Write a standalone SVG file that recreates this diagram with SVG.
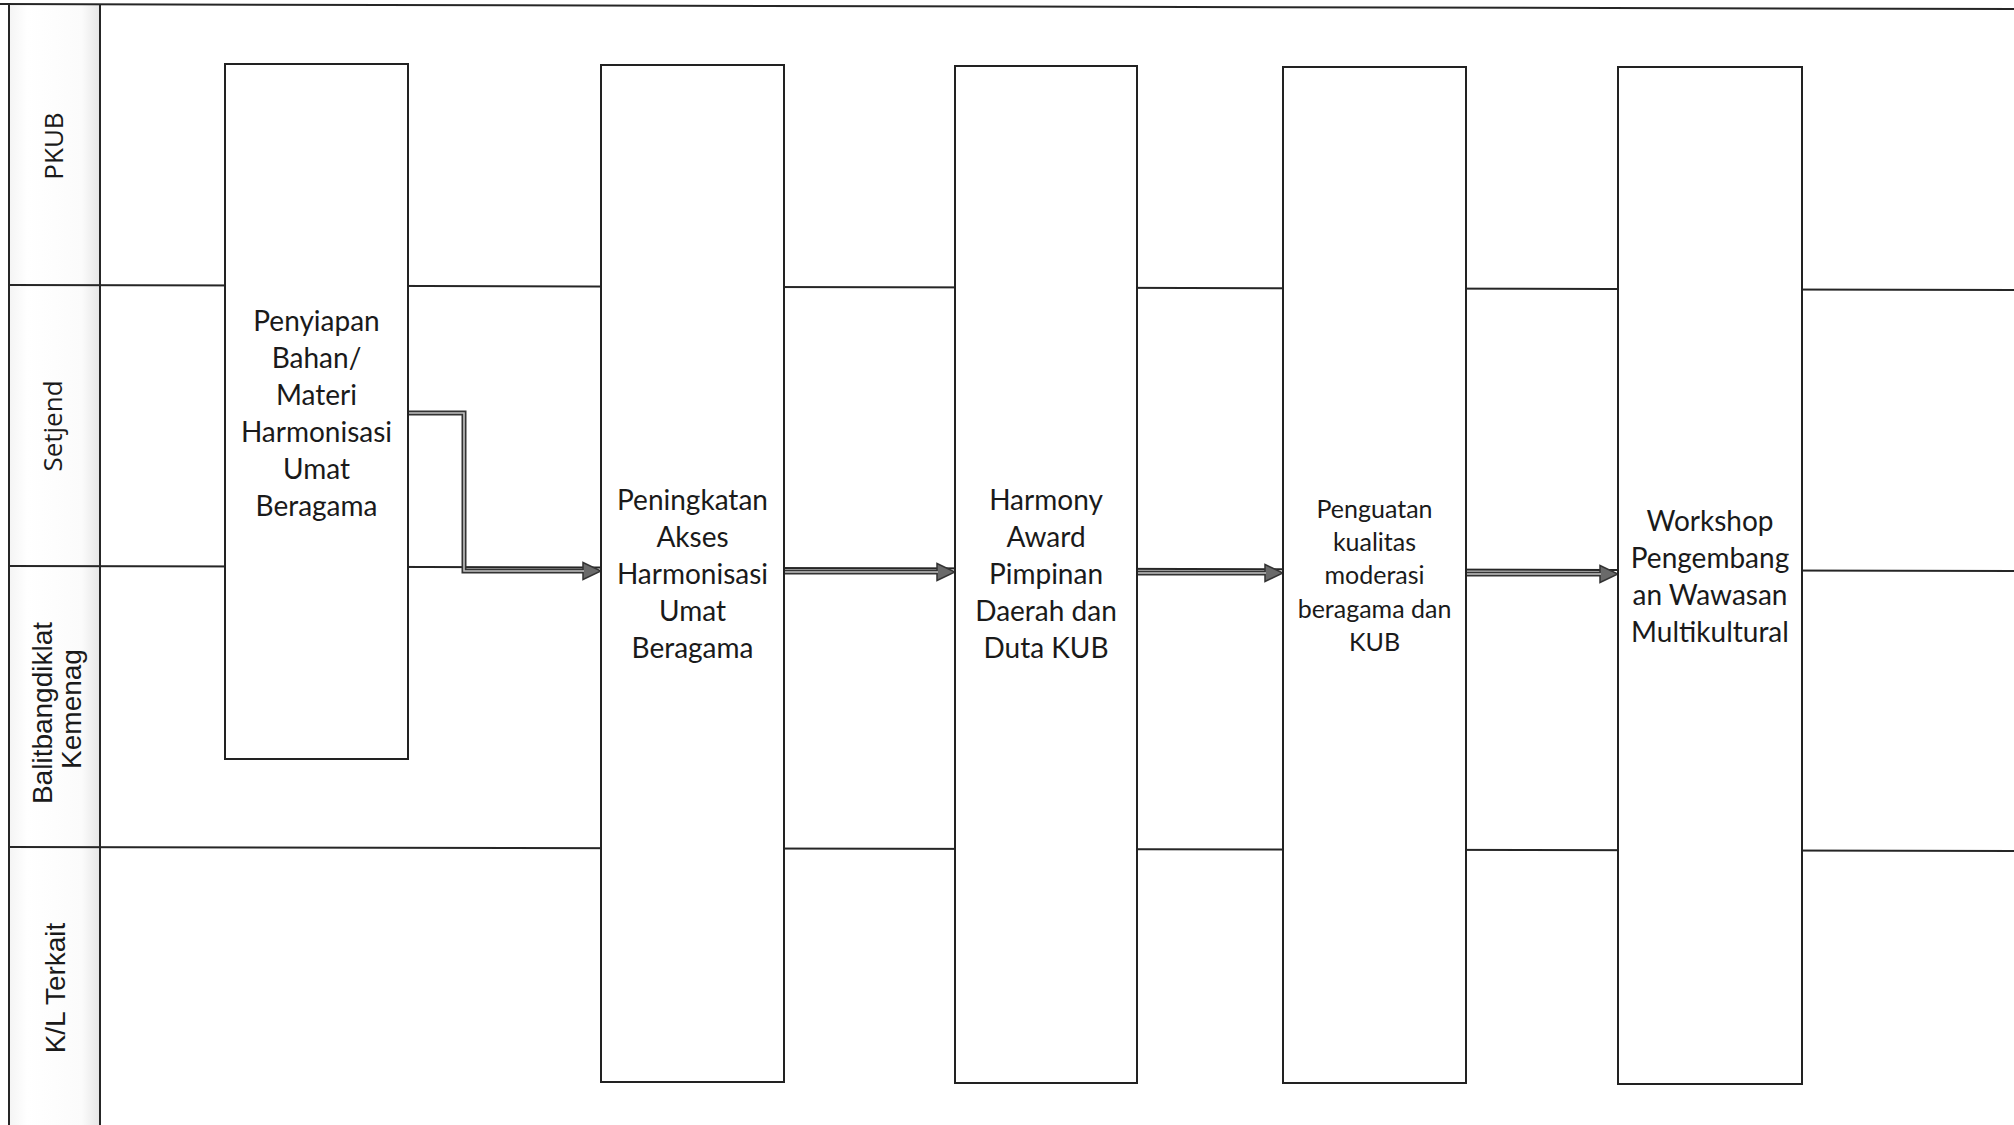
<svg xmlns="http://www.w3.org/2000/svg" width="2014" height="1125" viewBox="0 0 2014 1125">
  <style>
    .frame { stroke: #262626; stroke-width: 2; fill: none; }
    .box { fill: #ffffff; stroke: #222222; stroke-width: 2; }
    .lbl { font-family: Lato, "Open Sans", sans-serif; font-size: 28px; fill: #1a1a1a; text-anchor: middle; }
    .lbl-s { font-size: 25px; }
    .lane { font-family: "Open Sans", Lato, sans-serif; font-size: 26px; fill: #1a1a1a; text-anchor: middle; }
    .lane-a { font-family: "Liberation Sans", Arial, sans-serif; font-size: 28px; fill: #1a1a1a; text-anchor: middle; }
    .conn-outer { stroke: #333333; stroke-width: 5; fill: none; }
    .conn-inner { stroke: #c4c4c4; stroke-width: 1.6; fill: none; }
  </style>
  <defs>
    <linearGradient id="hdrShade" x1="0" y1="0" x2="1" y2="0">
      <stop offset="0" stop-color="#f4f4f4"/>
      <stop offset="0.2" stop-color="#ffffff"/>
      <stop offset="0.8" stop-color="#fbfbfb"/>
      <stop offset="1" stop-color="#e6e6e6"/>
    </linearGradient>
    <marker id="arrow" markerUnits="userSpaceOnUse" markerWidth="20" markerHeight="20" viewBox="0 0 20 20" refX="2" refY="10" orient="auto">
      <path d="M1,1.5 L19,10 L1,18.5 z" fill="#6a6a6a" stroke="#333333" stroke-width="1.5"/>
    </marker>
  </defs>

  <rect x="0" y="0" width="2014" height="1125" fill="#ffffff"/>

  <g id="lanes">
    <rect x="9" y="4" width="91" height="1121" fill="url(#hdrShade)"/>
    <line class="frame" x1="0" y1="4" x2="2014" y2="9"/>
    <line class="frame" x1="9" y1="4" x2="9" y2="1125"/>
    <line class="frame" x1="100" y1="4" x2="100" y2="1125"/>
    <line class="frame" x1="9" y1="285" x2="2014" y2="290"/>
    <line class="frame" x1="9" y1="566" x2="2014" y2="571"/>
    <line class="frame" x1="9" y1="847" x2="2014" y2="851"/>
    <text class="lane" transform="translate(63,146) rotate(-90)">PKUB</text>
    <text class="lane" transform="translate(62,426) rotate(-90)">Setjend</text>
    <text class="lane-a" transform="translate(52,713) rotate(-90)">Balitbangdiklat</text>
    <text class="lane-a" transform="translate(81,709) rotate(-90)">Kemenag</text>
    <text class="lane-a" transform="translate(65,988) rotate(-90)">K/L Terkait</text>
  </g>

  <g id="connectors">
    <path class="conn-outer" d="M408,413 H464 V571 H584" marker-end="url(#arrow)"/>
    <path class="conn-inner" d="M408,413 H464 V571 H584"/>
    <path class="conn-outer" d="M784,572 H938" marker-end="url(#arrow)"/>
    <path class="conn-inner" d="M784,572 H938"/>
    <path class="conn-outer" d="M1137,573 H1266" marker-end="url(#arrow)"/>
    <path class="conn-inner" d="M1137,573 H1266"/>
    <path class="conn-outer" d="M1466,574 H1601" marker-end="url(#arrow)"/>
    <path class="conn-inner" d="M1466,574 H1601"/>
  </g>

  <g id="node1">
    <rect class="box" x="225" y="64" width="183" height="695"/>
    <text class="lbl" x="316.5" y="331">Penyiapan</text>
    <text class="lbl" x="316.5" y="368">Bahan/</text>
    <text class="lbl" x="316.5" y="405">Materi</text>
    <text class="lbl" x="316.5" y="442">Harmonisasi</text>
    <text class="lbl" x="316.5" y="479">Umat</text>
    <text class="lbl" x="316.5" y="516">Beragama</text>
  </g>

  <g id="node2">
    <rect class="box" x="601" y="65" width="183" height="1017"/>
    <text class="lbl" x="692.5" y="510">Peningkatan</text>
    <text class="lbl" x="692.5" y="547">Akses</text>
    <text class="lbl" x="692.5" y="584">Harmonisasi</text>
    <text class="lbl" x="692.5" y="621">Umat</text>
    <text class="lbl" x="692.5" y="658">Beragama</text>
  </g>

  <g id="node3">
    <rect class="box" x="955" y="66" width="182" height="1017"/>
    <text class="lbl" x="1046" y="510">Harmony</text>
    <text class="lbl" x="1046" y="547">Award</text>
    <text class="lbl" x="1046" y="584">Pimpinan</text>
    <text class="lbl" x="1046" y="621">Daerah dan</text>
    <text class="lbl" x="1046" y="658">Duta KUB</text>
  </g>

  <g id="node4">
    <rect class="box" x="1283" y="67" width="183" height="1016"/>
    <text class="lbl lbl-s" x="1374.5" y="518">Penguatan</text>
    <text class="lbl lbl-s" x="1374.5" y="551">kualitas</text>
    <text class="lbl lbl-s" x="1374.5" y="584">moderasi</text>
    <text class="lbl lbl-s" x="1374.5" y="618">beragama dan</text>
    <text class="lbl lbl-s" x="1374.5" y="651">KUB</text>
  </g>

  <g id="node5">
    <rect class="box" x="1618" y="67" width="184" height="1017"/>
    <text class="lbl" x="1710" y="531">Workshop</text>
    <text class="lbl" x="1710" y="568">Pengembang</text>
    <text class="lbl" x="1710" y="605">an Wawasan</text>
    <text class="lbl" x="1710" y="642">Multikultural</text>
  </g>
</svg>
